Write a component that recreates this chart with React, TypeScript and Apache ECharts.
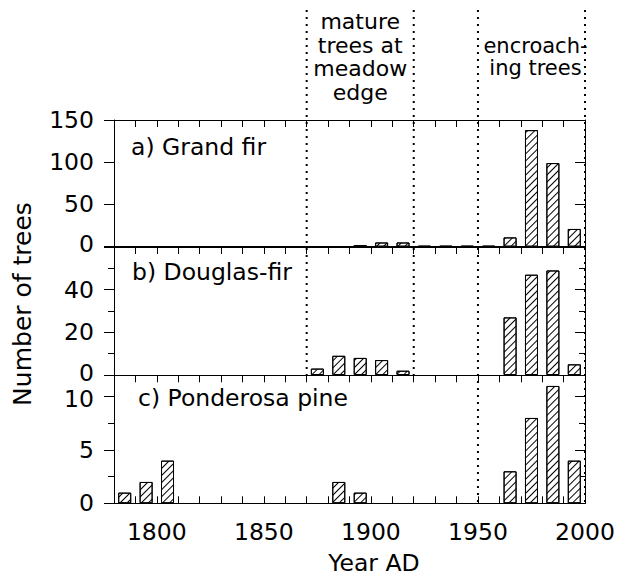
import React, { useEffect, useRef } from 'react';
import * as echarts from 'echarts';

const X_MIN = 1780;
const X_MAX = 2000;
const grandFirYears = [1895, 1905, 1915, 1925, 1935, 1945, 1955, 1965, 1975, 1985, 1995];
const grandFirCounts = [2, 5, 5, 1, 1, 1, 1, 11, 138, 99, 21];
const douglasFirYears = [1875, 1885, 1895, 1905, 1915, 1965, 1975, 1985, 1995];
const douglasFirCounts = [3, 9, 8, 7, 2, 27, 47, 49, 5];
const ponderosaYears = [1785, 1795, 1805, 1885, 1895, 1965, 1975, 1985, 1995];
const ponderosaCounts = [1, 2, 4, 2, 1, 3, 8, 11, 4];
const panelLabels = ['a) Grand fir', 'b) Douglas-fir', 'c) Ponderosa pine'];
const yMaxes = [150, 60, 12];
const yMajorIntervals = [50, 20, 5];
const yMinorIntervals = [0, 10, 2.5];
const xLabelYears = [1800, 1850, 1900, 1950, 2000];
const matureBounds = [1870, 1920];
const encroachBounds = [1950, 2000];
const matureText = 'mature\ntrees at\nmeadow\nedge';
const encroachText = 'encroach-\ning trees';
const xTitle = 'Year AD';
const yTitle = 'Number of trees';

const FONT = 'DejaVu Sans';
const FS = 23.5;
const grids = [
  { top: 120, height: 126.7 },
  { top: 247, height: 128 },
  { top: 375.3, height: 128 },
];
const labelPos = [
  { x: 131, y: 147 },
  { x: 132, y: 272 },
  { x: 138, y: 398 },
];

export default function App() {
  const ref = useRef<HTMLDivElement>(null);
  useEffect(() => {
    const chart = echarts.init(ref.current!, null, { renderer: 'svg' });
    const seriesYears = [grandFirYears, douglasFirYears, ponderosaYears];
    const seriesCounts = [grandFirCounts, douglasFirCounts, ponderosaCounts];
    const xAxis: any[] = [];
    const yAxis: any[] = [];
    const series: any[] = [];
    const leftMajorIdx: number[] = [];
    const richBase = { fontFamily: FONT, fontSize: FS, color: '#000', lineHeight: 18 };
    grids.forEach((g, i) => {
      const xb = xAxis.length;
      xAxis.push({
        type: 'value', gridIndex: i, position: 'bottom', min: X_MIN, max: X_MAX, interval: 10,
        axisLine: { show: true, onZero: false, lineStyle: { color: '#000', width: i === 0 ? 2 : 1 } },
        axisTick: { show: i === 2, inside: true, length: 7, lineStyle: { color: '#000' } },
        axisLabel: {
          show: i === 2, margin: 17, color: '#000', fontFamily: FONT, fontSize: FS,
          formatter: (v: number) => (xLabelYears.includes(v) ? String(v) : ''),
        },
        splitLine: { show: false },
      });
      xAxis.push({
        type: 'value', gridIndex: i, position: 'top', min: X_MIN, max: X_MAX, interval: 10,
        axisLine: { show: true, onZero: false, lineStyle: { color: '#000' } },
        axisTick: { show: true, inside: true, length: 7, lineStyle: { color: '#000' } },
        axisLabel: { show: false },
        splitLine: { show: false },
      });
      if (yMinorIntervals[i] > 0) {
        ['left', 'right'].forEach((pos) => {
          yAxis.push({
            type: 'value', gridIndex: i, position: pos, min: 0, max: yMaxes[i], interval: yMinorIntervals[i],
            axisLine: { show: true, onZero: false, lineStyle: { color: '#000' } },
            axisTick: { show: true, inside: pos === 'right', length: 6, lineStyle: { color: '#000' } },
            axisLabel: { show: false },
            splitLine: { show: false },
          });
        });
      }
      leftMajorIdx.push(yAxis.length);
      yAxis.push({
        type: 'value', gridIndex: i, position: 'left', min: 0, max: yMaxes[i], interval: yMajorIntervals[i],
        axisLine: { show: true, onZero: false, lineStyle: { color: '#000' } },
        axisTick: { show: true, inside: false, length: 10, lineStyle: { color: '#000' } },
        axisLabel: {
          margin: 20, color: '#000', fontFamily: FONT, fontSize: FS, lineHeight: 18,
          formatter: (v: number) => {
            if (v % yMajorIntervals[i] !== 0 || (i > 0 && v >= yMaxes[i])) return '';
            if (v === 0 && i < 2) return '{up|' + v + '}';
            if (i === 2 && v === 10) return '{dn|' + v + '}';
            return '{n|' + v + '}';
          },
          rich: {
            n: { ...richBase },
            up: { ...richBase, padding: [0, 0, 5, 0] },
            dn: { ...richBase, padding: [5, 0, 0, 0] },
          },
        },
        splitLine: { show: false },
      });
      yAxis.push({
        type: 'value', gridIndex: i, position: 'right', min: 0, max: yMaxes[i], interval: yMajorIntervals[i],
        axisLine: { show: true, onZero: false, lineStyle: { color: '#000' } },
        axisTick: { show: true, inside: true, length: 10, lineStyle: { color: '#000' } },
        axisLabel: { show: false },
        splitLine: { show: false },
      });
      series.push({
        type: 'bar', xAxisIndex: xb, yAxisIndex: leftMajorIdx[i],
        data: seriesYears[i].map((y, k) => [y, seriesCounts[i][k]]),
        barWidth: 13,
        itemStyle: {
          color: '#fff', borderColor: '#000', borderWidth: 1,
          decal: {
            symbol: 'rect', symbolSize: 1, color: '#000',
            dashArrayX: [1, 0], dashArrayY: [1, 4], rotation: -Math.PI / 4,
          },
        },
      });
    });

    chart.setOption({
      animation: false,
      backgroundColor: '#fff',
      grid: grids.map((g) => ({ left: 114, right: 40, top: g.top, height: g.height })),
      xAxis, yAxis, series,
    });

    const px = (yr: number) => chart.convertToPixel({ xAxisIndex: 0 }, yr) as number;
    const bottomB = chart.convertToPixel({ yAxisIndex: leftMajorIdx[1] }, 0) as number;
    const bottomC = chart.convertToPixel({ yAxisIndex: leftMajorIdx[2] }, 0) as number;
    const xAxisTitleX = px(1900) + 3;
    const graphic: any[] = [];
    matureBounds.forEach((yr) => {
      graphic.push({ type: 'line', z: 10, shape: { x1: px(yr), y1: 10, x2: px(yr), y2: bottomB },
        style: { stroke: '#000', lineWidth: 2, lineDash: [2, 5] } });
    });
    encroachBounds.forEach((yr) => {
      graphic.push({ type: 'line', z: 10, shape: { x1: px(yr), y1: 10, x2: px(yr), y2: bottomC },
        style: { stroke: '#000', lineWidth: 2, lineDash: [2, 5] } });
    });
    const textStyle = (t: string, size: number, lh?: number) => ({
      text: t, fill: '#000', fontFamily: FONT, fontSize: size, lineHeight: lh,
    });
    graphic.push({ type: 'text', x: (px(matureBounds[0]) + px(matureBounds[1])) / 2, y: 10,
      style: { ...textStyle(matureText, 22, 23.5), align: 'center', verticalAlign: 'top' } });
    graphic.push({ type: 'text', x: (px(encroachBounds[0]) + px(encroachBounds[1])) / 2 + 4, y: 35,
      style: { ...textStyle(encroachText, 21, 22), align: 'center', verticalAlign: 'top' } });
    panelLabels.forEach((t, i) => {
      graphic.push({ type: 'text', x: labelPos[i].x, y: labelPos[i].y,
        style: { ...textStyle(t, FS), align: 'left', verticalAlign: 'middle' } });
    });
    graphic.push({ type: 'text', x: xAxisTitleX, y: 563,
      style: { ...textStyle(xTitle, FS), align: 'center', verticalAlign: 'middle' } });
    graphic.push({ type: 'text', x: 22, y: 304, rotation: Math.PI / 2,
      style: { ...textStyle(yTitle, 25), align: 'center', verticalAlign: 'middle' } });
    chart.setOption({ graphic });

    return () => chart.dispose();
  }, []);
  return <div ref={ref} style={{ position: 'absolute', left: 0, top: 0, width: 625, height: 577 }} />;
}
